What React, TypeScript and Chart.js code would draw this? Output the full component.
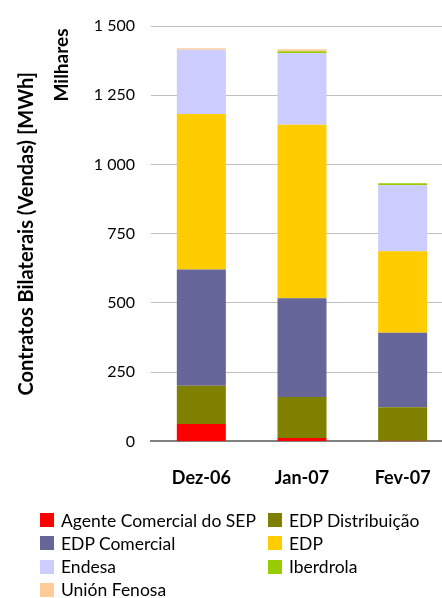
import React, { useEffect, useRef } from "react";
import { Chart, registerables } from "chart.js";

Chart.register(...registerables);

const categories = ["Dez-06", "Jan-07", "Fev-07"];
const seriesNames = [
  "Agente Comercial do SEP",
  "EDP Distribuição",
  "EDP Comercial",
  "EDP",
  "Endesa",
  "Iberdrola",
  "Unión Fenosa",
];
const agente = [63, 12, 2];
const edpDistribuicao = [138, 148, 121];
const edpComercial = [420, 357, 269];
const edp = [561, 626, 295];
const endesa = [232, 259, 238];
const iberdrola = [0, 7, 7];
const unionFenosa = [6, 7, 0];
const seriesColors = ["#FF0000", "#808000", "#666699", "#FFCC00", "#CCCCFF", "#99CC00", "#FFCC99"];
const seriesValues = [agente, edpDistribuicao, edpComercial, edp, endesa, iberdrola, unionFenosa];
const yTicks = [0, 250, 500, 750, 1000, 1250, 1500];

const FONT = "Lato, 'DejaVu Sans', sans-serif";

const fmt = (v: number) => {
  if (v >= 1000) {
    const s = String(v);
    return s.slice(0, s.length - 3) + " " + s.slice(s.length - 3);
  }
  return String(v);
};

const milharesPlugin = {
  id: "milhares",
  afterDraw(chart: any) {
    const ctx = chart.ctx;
    ctx.save();
    ctx.translate(62, 65);
    ctx.rotate(-Math.PI / 2);
    ctx.font = `bold 19px ${FONT}`;
    ctx.fillStyle = "#000";
    ctx.textAlign = "center";
    ctx.textBaseline = "middle";
    ctx.fillText("Milhares", 0, 0);
    ctx.restore();
  },
};

export default function App() {
  const ref = useRef<HTMLCanvasElement | null>(null);
  useEffect(() => {
    if (!ref.current) return;
    const chart = new Chart(ref.current, {
      type: "bar",
      data: {
        labels: categories,
        datasets: seriesNames.map((name, i) => ({
          label: name,
          data: seriesValues[i],
          backgroundColor: seriesColors[i],
          borderWidth: 0,
          barPercentage: 0.487,
          categoryPercentage: 1,
        })),
      },
      options: {
        animation: false,
        responsive: false,
        maintainAspectRatio: false,
        layout: { padding: { left: 0, right: 7, top: 26, bottom: 10 } },
        plugins: {
          legend: { display: false },
          tooltip: { enabled: false },
        },
        scales: {
          x: {
            stacked: true,
            grid: { display: false, drawTicks: false },
            border: { display: true, color: "#808080", width: 2 },
            ticks: {
              color: "#000",
              padding: 26,
              font: { family: FONT, size: 18, weight: "bold" },
            },
          },
          y: {
            stacked: true,
            min: 0,
            max: 1500,
            afterFit(scale: any) {
              scale.width = 151;
            },
            afterBuildTicks(scale: any) {
              scale.ticks = yTicks.map((v) => ({ value: v }));
            },
            grid: { color: "#c0c0c0", lineWidth: 1, drawTicks: false },
            border: { display: false },
            ticks: {
              color: "#000",
              padding: 16,
              font: { family: FONT, size: 16 },
              callback: (v: any) => fmt(Number(v)),
            },
            title: {
              display: true,
              text: "Contratos Bilaterais (Vendas) [MWh]",
              color: "#000",
              font: { family: FONT, size: 20, weight: "bold" },
              padding: { top: 15, bottom: 0 },
            },
          },
        },
      },
      plugins: [milharesPlugin],
    });
    return () => chart.destroy();
  }, []);

  return (
    <div
      style={{
        position: "fixed",
        left: 0,
        top: 0,
        width: 442,
        height: 598,
        overflow: "hidden",
        background: "#fff",
        fontFamily: FONT,
      }}
    >
      <canvas ref={ref} width={460} height={525} style={{ position: "absolute", left: 0, top: 0 }} />
      {seriesNames.map((name, k) => {
        const col = k % 2;
        const row = Math.floor(k / 2);
        const left = col === 0 ? 40 : 268;
        const top = 520 + row * 23.3;
        return (
          <div
            key={name}
            style={{
              position: "absolute",
              left,
              top: top - 11,
              height: 22,
              display: "flex",
              alignItems: "center",
              whiteSpace: "nowrap",
              fontSize: 17.5,
              color: "#000",
            }}
          >
            <span
              style={{
                display: "inline-block",
                width: 14,
                height: 14,
                background: seriesColors[k],
                marginRight: 7,
              }}
            />
            <span>{name}</span>
          </div>
        );
      })}
    </div>
  );
}
